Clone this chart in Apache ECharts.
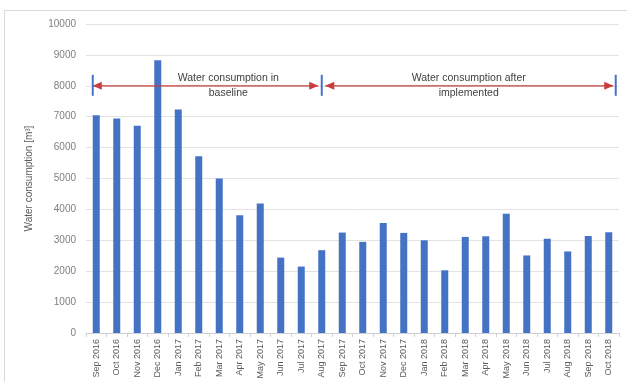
<!DOCTYPE html>
<html>
<head>
<meta charset="utf-8">
<script src="https://cdn.jsdelivr.net/npm/echarts@6/dist/echarts.min.js"></script>
<style>
  html, body { margin: 0; padding: 0; background: #fff; }
  #frame { position: absolute; left: 4px; top: 10px; width: 640px; height: 400px;
           border-left: 1px solid #d9d9d9; border-top: 1px solid #d9d9d9; }
  #chart { width: 627px; height: 382px; }
</style>
</head>
<body>
<div id="frame"></div>
<div id="chart"></div>
<script>
// Monthly water consumption, Sep 2016 - Oct 2018
const months = [
  'Sep 2016', 'Oct 2016', 'Nov 2016', 'Dec 2016', 'Jan 2017', 'Feb 2017',
  'Mar 2017', 'Apr 2017', 'May 2017', 'Jun 2017', 'Jul 2017', 'Aug 2017',
  'Sep 2017', 'Oct 2017', 'Nov 2017', 'Dec 2017', 'Jan 2018', 'Feb 2018',
  'Mar 2018', 'Apr 2018', 'May 2018', 'Jun 2018', 'Jul 2018', 'Aug 2018',
  'Sep 2018', 'Oct 2018'
];
const consumption = [
  7050, 6940, 6710, 8830, 7230, 5720,
  5000, 3810, 4190, 2440, 2150, 2680,
  3250, 2950, 3560, 3240, 3000, 2030,
  3110, 3130, 3860, 2510, 3050, 2640,
  3140, 3260
];
const yTicks = { min: 0, max: 10000, interval: 1000 };
const yTitle = 'Water consumption [m\u00b3]';

// Period brackets: [first month, last month, caption]
const periods = [
  ['Sep 2016', 'Aug 2017', 'Water consumption in\nbaseline'],
  ['Aug 2017', 'Oct 2018', 'Water consumption after\nimplemented']
];
const bracketLevel = 8000;

const chart = echarts.init(document.getElementById('chart'), null, { renderer: 'canvas' });

chart.setOption({
  animation: false,
  backgroundColor: 'transparent',
  grid: { left: 86, right: 8, top: 24, bottom: 49 },
  xAxis: {
    type: 'category',
    data: months,
    axisLine: { lineStyle: { color: '#d0d0d0', width: 1 } },
    axisTick: { show: true, length: 4, lineStyle: { color: '#d0d0d0' } },
    axisLabel: {
      rotate: 90, margin: 6, interval: 0,
      fontFamily: 'Liberation Sans', fontSize: 9, color: '#595959'
    }
  },
  yAxis: {
    type: 'value',
    min: yTicks.min, max: yTicks.max, interval: yTicks.interval,
    name: yTitle,
    nameLocation: 'middle',
    nameGap: 52,
    nameTextStyle: { fontFamily: 'Liberation Sans', fontSize: 10, color: '#595959' },
    axisLine: { show: false },
    axisTick: { show: false },
    axisLabel: {
      fontFamily: 'Liberation Sans', fontSize: 10, color: '#7f7f7f', margin: 10,
      formatter: function (v) { return String(v); }
    },
    splitLine: { lineStyle: { color: '#e3e3e3', width: 1 } }
  },
  series: [{
    type: 'bar',
    data: consumption,
    barWidth: 7,
    itemStyle: { color: '#4472c4' }
  }]
});

// Draw the period brackets as arrowed lines anchored to the axes
function arrowHead(tipX, y, dir) {
  const len = 9, half = 4;
  return {
    type: 'polygon',
    shape: { points: [[tipX, y], [tipX - dir * len, y - half], [tipX - dir * len, y + half]] },
    style: { fill: '#c83c3c' },
    z: 20
  };
}
function bracketTick(x, y) {
  return {
    type: 'line',
    shape: { x1: x, y1: y - 11, x2: x, y2: y + 10 },
    style: { stroke: '#4472c4', lineWidth: 2 },
    z: 21
  };
}

const band = chart.convertToPixel({ xAxisIndex: 0 }, months[1]) - chart.convertToPixel({ xAxisIndex: 0 }, months[0]);
const y = chart.convertToPixel({ yAxisIndex: 0 }, bracketLevel);
const elements = [];
const edges = [];
periods.forEach(function (p, i) {
  let x0 = chart.convertToPixel({ xAxisIndex: 0 }, p[0]);
  let x1 = chart.convertToPixel({ xAxisIndex: 0 }, p[1]);
  if (i === 0) x0 -= band * 0.17;
  if (i === periods.length - 1) x1 += band * 0.34;
  edges.push(x0, x1);
  const a = i === 0 ? x0 : x0 + 3.5;
  const b = i === periods.length - 1 ? x1 - 2.5 : x1 - 3.5;
  elements.push({
    type: 'line',
    shape: { x1: a, y1: y, x2: b, y2: y },
    style: { stroke: '#c83c3c', lineWidth: 1.3 },
    z: 19
  });
  elements.push(arrowHead(a, y, -1));
  elements.push(arrowHead(b, y, 1));
  elements.push({
    type: 'text',
    x: (x0 + x1) / 2 + (i === 0 ? 21 : 0),
    y: y,
    style: {
      text: p[2],
      fontFamily: 'Liberation Sans', fontSize: 10.5, fill: '#404040',
      align: 'center', verticalAlign: 'middle', lineHeight: 15
    },
    z: 22
  });
});
[edges[0], edges[1], edges[3]].forEach(function (x) { elements.push(bracketTick(x, y)); });

chart.setOption({ graphic: elements });
</script>
</body>
</html>
